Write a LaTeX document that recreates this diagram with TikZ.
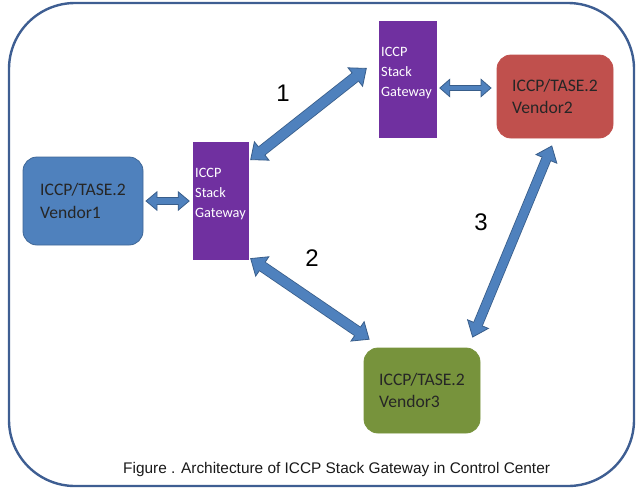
\documentclass[tikz,border=0pt]{standalone}
\usepackage{fontspec}
\setmainfont{Carlito}
\newfontfamily\arialfont{Liberation Sans}
\usetikzlibrary{arrows.meta}
\definecolor{outerc}{RGB}{62,94,146}
\definecolor{vblue}{RGB}{79,129,189}
\definecolor{vblueb}{RGB}{56,93,138}
\definecolor{vred}{RGB}{192,80,77}
\definecolor{vgreen}{RGB}{119,147,60}
\definecolor{gpurple}{RGB}{112,48,160}
\definecolor{arrblue}{RGB}{79,129,189}
\definecolor{arrborder}{RGB}{56,93,138}
\newcommand\blockarr[6]{%
  % #1 from, #2 to, #3 shaft width, #4 head length, #5 head width, #6 shorten
  \draw[line width=#3+1.6pt, draw=arrborder,
    {Triangle[length=#4, width=#5, fill=arrblue, line width=0.8pt]}-{Triangle[length=#4, width=#5, fill=arrblue, line width=0.8pt]}] #1 -- #2;
  \draw[line width=#3, draw=arrblue, shorten <=#6, shorten >=#6] #1 -- #2;
}
\begin{document}
\begin{tikzpicture}[x=1pt,y=-1pt,
  vendor/.style={draw=#1!80!black, fill=#1, line width=0.8pt, rounded corners=14pt,
     align=left, font=\fontsize{17.6}{22.5}\selectfont, text=black!85, inner sep=0pt},
  gateway/.style={fill=gpurple, draw=none, align=left, text=white,
     font=\fontsize{14.3}{20}\selectfont, inner sep=0pt},
  numlabel/.style={font=\arialfont\fontsize{24}{24}\selectfont, inner sep=0pt}
]
\useasboundingbox (0,0) rectangle (637,488);
\draw[outerc, line width=2.4pt, rounded corners=66pt] (9,3) rectangle (634,486);

\node[vendor=vblue, minimum width=120pt, minimum height=88pt] (v1) at (83,201) {ICCP/TASE.2\\Vendor1};
\node[vendor=vred, draw=vred, minimum width=116pt, minimum height=83pt] (v2) at (555,96.5) {ICCP/TASE.2\\Vendor2};
\node[vendor=vgreen, draw=vgreen, minimum width=116pt, minimum height=85pt] (v3) at (422,390.5) {ICCP/TASE.2\\Vendor3};

\node[gateway, minimum width=56pt, minimum height=118pt] (g1) at (221,201) {};
\node[gateway, anchor=west] (g1t) at (195,194) {ICCP\\Stack\\Gateway};
\node[gateway, minimum width=58pt, minimum height=117pt] (g2) at (408,79.5) {};
\node[gateway, anchor=west] (g2t) at (381,73) {ICCP\\Stack\\Gateway};

\blockarr{([xshift=2pt]v1.east)}{([xshift=-3pt]g1.west)}{6pt}{12pt}{20pt}{10.5pt}
\blockarr{([xshift=2pt]g2.east |- 0,88)}{([xshift=-5pt]v2.west |- 0,88)}{4.8pt}{11pt}{19pt}{9.5pt}
\blockarr{([xshift=1pt,yshift=41pt]g1.east)}{([xshift=-12pt,yshift=11.5pt]g2.west)}{9.5pt}{15pt}{25pt}{13.5pt}
\blockarr{([xshift=1pt,yshift=2pt]g1.south east)}{([xshift=6pt,yshift=8pt]v3.north west)}{9.5pt}{15pt}{25pt}{13.5pt}
\blockarr{([xshift=-3pt,yshift=-7pt]v2.south)}{([xshift=-8pt,yshift=10pt]v3.north east)}{8.5pt}{15pt}{24pt}{13.5pt}

\node[numlabel] (n1) at (283,93.5) {1};
\node[numlabel] (n2) at (312,258.5) {2};
\node[numlabel] (n3) at (481,222) {3};

\node[font=\arialfont\fontsize{15.4}{18}\selectfont, anchor=base west, inner sep=0pt, text=black!90] (cap) at (123,473) {Figure . Architecture of ICCP Stack Gateway in Control Center};
\end{tikzpicture}
\end{document}
